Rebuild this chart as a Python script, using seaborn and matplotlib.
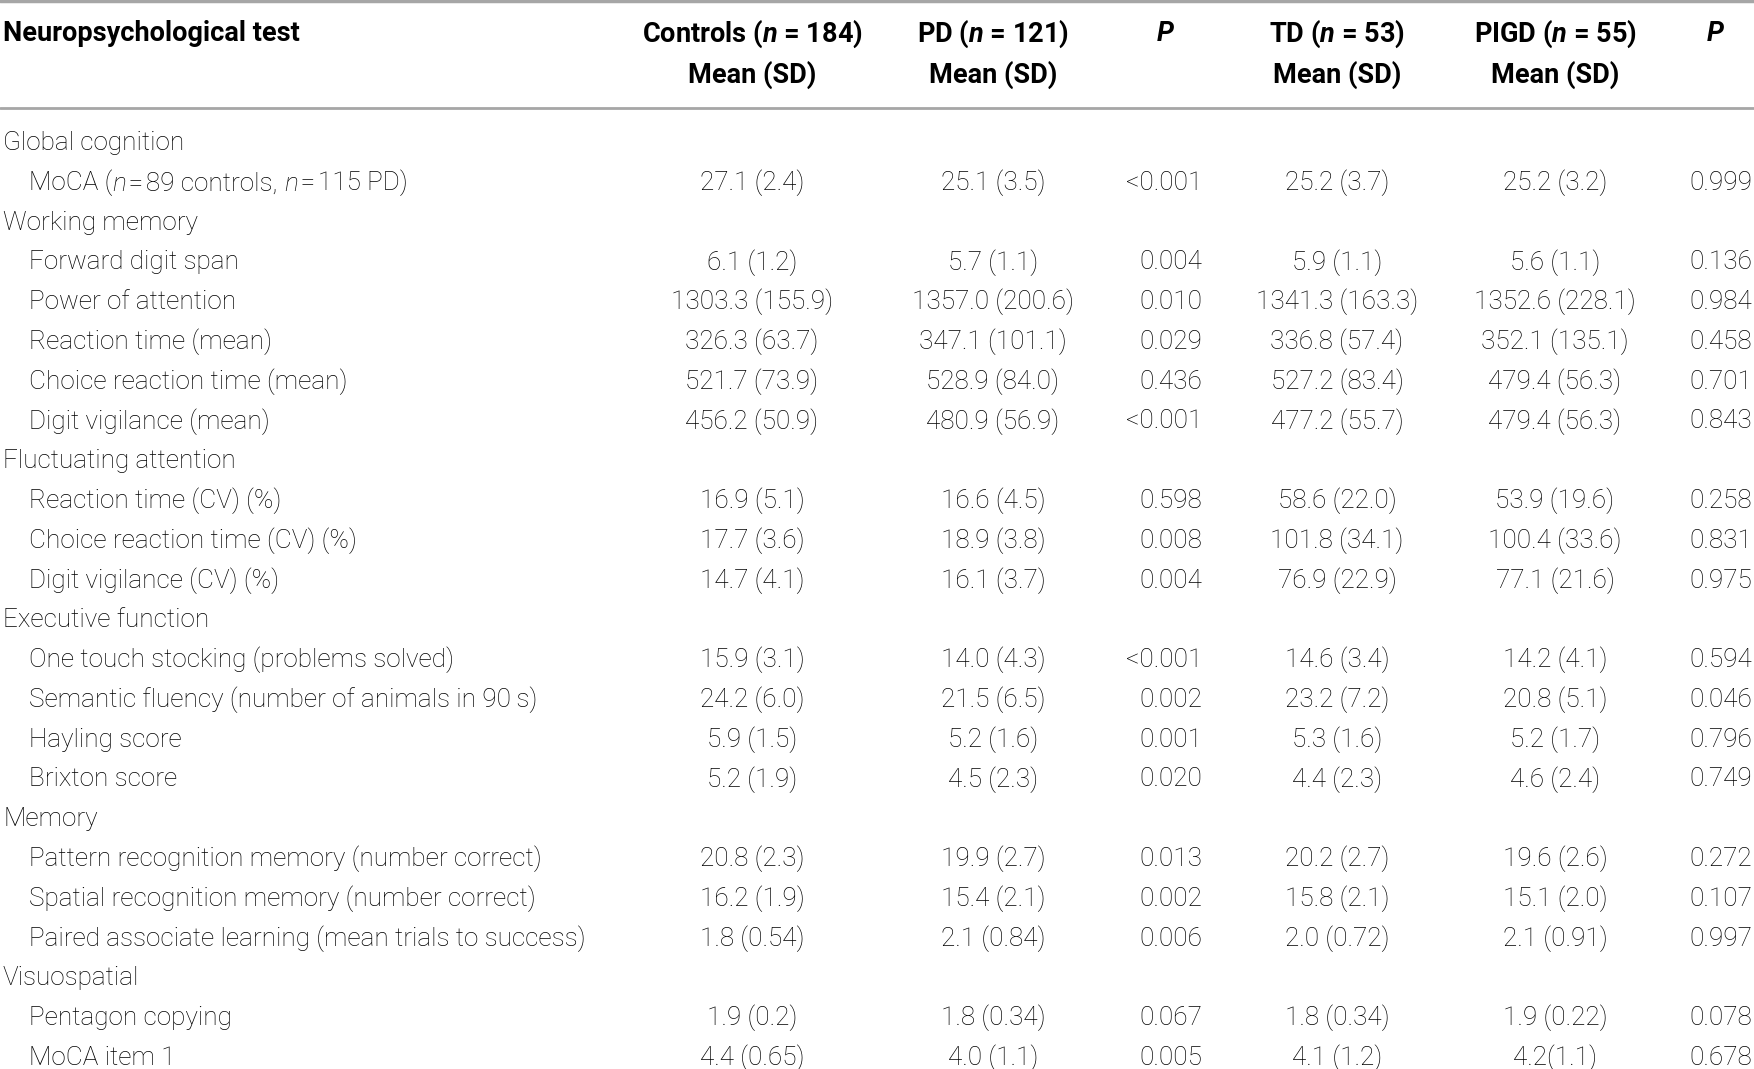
import matplotlib
matplotlib.use("Agg")
import matplotlib.pyplot as plt
import seaborn as sns
import pandas as pd

# --------------------------------------------------
# Table content
# --------------------------------------------------

# rich labels are lists of (text, italic) pieces
labels = [
    "Global cognition",
    [("MoCA (", False), ("n", True), ("\u200a=\u200a89 controls, ", False),
     ("n", True), ("\u200a=\u200a115 PD)", False)],
    "Working memory",
    "Forward digit span",
    "Power of attention",
    "Reaction time (mean)",
    "Choice reaction time (mean)",
    "Digit vigilance (mean)",
    "Fluctuating attention",
    "Reaction time (CV) (%)",
    "Choice reaction time (CV) (%)",
    "Digit vigilance (CV) (%)",
    "Executive function",
    "One touch stocking (problems solved)",
    "Semantic fluency (number of animals in 90\u2009s)",
    "Hayling score",
    "Brixton score",
    "Memory",
    "Pattern recognition memory (number correct)",
    "Spatial recognition memory (number correct)",
    "Paired associate learning (mean trials to success)",
    "Visuospatial",
    "Pentagon copying",
    "MoCA item 1",
]

is_group = [True, False, True, False, False, False, False, False,
            True, False, False, False, True, False, False, False, False,
            True, False, False, False, True, False, False]

controls = ["", "27.1 (2.4)", "", "6.1 (1.2)", "1303.3 (155.9)", "326.3 (63.7)",
            "521.7 (73.9)", "456.2 (50.9)", "", "16.9 (5.1)", "17.7 (3.6)",
            "14.7 (4.1)", "", "15.9 (3.1)", "24.2 (6.0)", "5.9 (1.5)", "5.2 (1.9)",
            "", "20.8 (2.3)", "16.2 (1.9)", "1.8 (0.54)", "", "1.9 (0.2)", "4.4 (0.65)"]

pd_group = ["", "25.1 (3.5)", "", "5.7 (1.1)", "1357.0 (200.6)", "347.1 (101.1)",
            "528.9 (84.0)", "480.9 (56.9)", "", "16.6 (4.5)", "18.9 (3.8)",
            "16.1 (3.7)", "", "14.0 (4.3)", "21.5 (6.5)", "5.2 (1.6)", "4.5 (2.3)",
            "", "19.9 (2.7)", "15.4 (2.1)", "2.1 (0.84)", "", "1.8 (0.34)", "4.0 (1.1)"]

p_controls_pd = ["", "<0.001", "", "0.004", "0.010", "0.029", "0.436", "<0.001",
                 "", "0.598", "0.008", "0.004", "", "<0.001", "0.002", "0.001",
                 "0.020", "", "0.013", "0.002", "0.006", "", "0.067", "0.005"]

td = ["", "25.2 (3.7)", "", "5.9 (1.1)", "1341.3 (163.3)", "336.8 (57.4)",
      "527.2 (83.4)", "477.2 (55.7)", "", "58.6 (22.0)", "101.8 (34.1)",
      "76.9 (22.9)", "", "14.6 (3.4)", "23.2 (7.2)", "5.3 (1.6)", "4.4 (2.3)",
      "", "20.2 (2.7)", "15.8 (2.1)", "2.0 (0.72)", "", "1.8 (0.34)", "4.1 (1.2)"]

pigd = ["", "25.2 (3.2)", "", "5.6 (1.1)", "1352.6 (228.1)", "352.1 (135.1)",
        "479.4 (56.3)", "479.4 (56.3)", "", "53.9 (19.6)", "100.4 (33.6)",
        "77.1 (21.6)", "", "14.2 (4.1)", "20.8 (5.1)", "5.2 (1.7)", "4.6 (2.4)",
        "", "19.6 (2.6)", "15.1 (2.0)", "2.1 (0.91)", "", "1.9 (0.22)", "4.2(1.1)"]

p_td_pigd = ["", "0.999", "", "0.136", "0.984", "0.458", "0.701", "0.843",
             "", "0.258", "0.831", "0.975", "", "0.594", "0.046", "0.796",
             "0.749", "", "0.272", "0.107", "0.997", "", "0.078", "0.678"]

headers = [
    "Neuropsychological test",
    r"Controls ($\mathbfit{n}$ = 184)",
    r"PD ($\mathbfit{n}$ = 121)",
    "P",
    r"TD ($\mathbfit{n}$ = 53)",
    r"PIGD ($\mathbfit{n}$ = 55)",
    "P",
]

df = pd.DataFrame({
    "label": labels,
    "group": is_group,
    "controls": controls,
    "pd": pd_group,
    "p1": p_controls_pd,
    "td": td,
    "pigd": pigd,
    "p2": p_td_pigd,
})

# --------------------------------------------------
# Style
# --------------------------------------------------

sns.set_theme(style="white")
plt.rcParams["font.family"] = ["Roboto", "DejaVu Sans"]
plt.rcParams["mathtext.fontset"] = "custom"
plt.rcParams["mathtext.rm"] = "Roboto:bold"
plt.rcParams["mathtext.bfit"] = "Roboto:italic:bold"

FS_BODY = 18.8
FS_HEAD = 19.5
TXT = "#000000"
LINE = "#a6a6a6"

# column x positions (pixels across the figure)
x_label, x_item = 3, 29
x_controls, x_pd, x_p1 = 752, 993, 1202
x_td, x_pigd, x_p2 = 1337, 1555, 1752
x_p1_head, x_p2_head = 1165, 1715

fig = plt.figure(figsize=(17.54, 10.69), dpi=100)
ax = fig.add_axes([0, 0, 1, 1])
ax.set_xlim(0, 1754)
ax.set_ylim(23.33, -3.544)
ax.axis("off")

# --------------------------------------------------
# Header
# --------------------------------------------------

h1, h2 = -2.69, -1.67
ax.axhline(-3.51, color=LINE, lw=2.5)
ax.axhline(-0.82, color=LINE, lw=2)

head_kw = dict(fontsize=FS_HEAD, fontweight="bold", color="black", va="center")
ax.text(x_label, h1, headers[0], ha="left", **head_kw)
for x, h in zip([x_controls, x_pd, x_td, x_pigd], [headers[1], headers[2], headers[4], headers[5]]):
    ax.text(x, h1, h, ha="center", **head_kw)
    ax.text(x, h2, "Mean (SD)", ha="center", **head_kw)
ax.text(x_p1_head, h1, headers[3], ha="center", fontstyle="italic", **head_kw)
ax.text(x_p2_head, h1, headers[6], ha="center", fontstyle="italic", **head_kw)

# --------------------------------------------------
# Body
# --------------------------------------------------

body_kw = dict(fontsize=FS_BODY, fontweight="light", color=TXT)


def rich_label(x, y, pieces):
    # chain text pieces left to right, each starting where the last ended
    prev = ax.text(x, y, pieces[0][0], ha="left", va="center", **body_kw)
    for txt, italic in pieces[1:]:
        prev = ax.annotate(txt, xy=(1, 0), xycoords=prev, ha="left", va="bottom",
                           fontstyle="italic" if italic else "normal", **body_kw)


for i, row in df.iterrows():
    y = i + 0.05
    x0 = x_label if row["group"] else x_item
    if isinstance(row["label"], list):
        rich_label(x0, y, row["label"])
    else:
        ax.text(x0, y, row["label"], ha="left", va="center", **body_kw)
    for col, x in [("controls", x_controls), ("pd", x_pd), ("td", x_td), ("pigd", x_pigd)]:
        ax.text(x, y, row[col], ha="center", va="center", **body_kw)
    ax.text(x_p1, y, row["p1"], ha="right", va="center", **body_kw)
    ax.text(x_p2, y, row["p2"], ha="right", va="center", **body_kw)

fig.savefig("out.png", dpi=100)
